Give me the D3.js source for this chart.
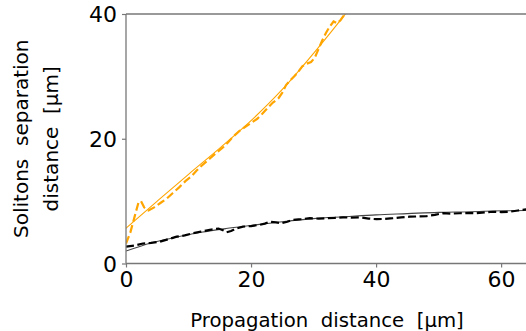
<!DOCTYPE html>
<html><head><meta charset="utf-8">
<script src="https://cdn.jsdelivr.net/npm/d3@7"></script>
<style>body{margin:0;background:#fff}svg{display:block}text{font-family:"DejaVu Sans",sans-serif;white-space:pre}</style>
</head><body><svg id="c" width="526" height="331"></svg>
<script>
// Orange: measured (dashed) and fit (solid)
const orangeX = [0,0.7,1.4,2.0,2.4,2.9,3.6,4.5,5.5,6.5,7.5,8.5,9.5,10.5,11.3,12.0,12.8,13.6,14.5,15.5,16.3,17.2,18.2,19.2,20.1,21.0,21.8,22.7,23.5,24.4,25.0,25.6,26.3,27.0,27.6,28.2,28.8,29.6,30.2,30.8,31.4,32.0,32.6,33.2,33.8,34.3,35.0,35.5];
const orangeY = [3.2,5.0,7.6,9.8,10.0,9.0,8.5,9.0,9.7,10.4,11.3,12.2,13.2,14.0,14.9,15.6,16.3,17.0,17.8,18.6,19.4,20.4,21.3,22.0,22.6,23.2,24.0,25.0,25.8,26.5,27.4,28.6,29.4,30.1,30.8,31.6,32.0,32.3,33.0,34.4,35.8,37.0,38.0,38.8,38.5,39.0,40.0,40.8];
const orangeFitX = [0,5,10,15,20,25,30,35,36];
const orangeFitY = [5.65,10.0,14.3,18.5,22.9,27.9,33.7,39.9,41.2];
// Black: measured (dashed) and fit (solid)
const blackX = [0,1.5,2.7,4.0,5.4,6.8,8.1,9.4,10.7,12.0,13.4,14.8,15.6,16.1,16.8,17.6,18.7,20.0,21.4,22.2,23.0,24.0,24.9,25.8,26.7,28.0,29.4,30.8,32.1,33.4,34.7,36.0,37.4,38.8,40.1,41.4,42.7,44.0,45.4,46.8,48.1,49.4,50.7,52.0,53.4,54.7,56.0,57.4,58.7,60.0,61.4,62.7,64.3];
const blackY = [2.7,2.9,3.2,3.3,3.5,3.9,4.3,4.5,4.85,5.1,5.4,5.6,5.3,5.0,5.2,5.6,5.9,6.0,6.2,6.4,6.7,6.6,6.45,6.7,7.0,7.1,7.26,7.2,7.26,7.3,7.4,7.35,7.4,7.2,7.1,7.15,7.26,7.4,7.5,7.55,7.6,7.8,8.06,8.0,8.06,8.1,8.06,8.2,8.3,8.25,8.3,8.5,8.7];
const blackFitX = [0,4,8,12,16,20,25,30,35,40,45,50,55,60,64.3];
const blackFitY = [2.0,3.3,4.2,5.0,5.6,6.1,6.7,7.2,7.5,7.8,8.0,8.2,8.3,8.45,8.5];
const xTicks = [0,20,40,60];
const yTicks = [0,20,40];
const xLabel = "Propagation  distance  [\u03bcm]";
const yLabelLines = ["Solitons  separation","distance  [\u03bcm]"];

const svg = d3.select("#c");
const L=126, R=528, T=14, B=263.5;
const x = d3.scaleLinear().domain([0,64.3]).range([L,R]);
const y = d3.scaleLinear().domain([0,40]).range([B,T]);

svg.append("defs").append("clipPath").attr("id","clip")
  .append("rect").attr("x",L).attr("y",T).attr("width",R-L).attr("height",B-T);

const g = svg.append("g").attr("clip-path","url(#clip)");
const lin = d3.line().x(d=>x(d[0])).y(d=>y(d[1]));
const smooth = d3.line().x(d=>x(d[0])).y(d=>y(d[1])).curve(d3.curveMonotoneX);
const zip = (a,b)=>a.map((v,i)=>[v,b[i]]);

g.append("path").attr("d",smooth(zip(blackFitX,blackFitY))).attr("fill","none").attr("stroke","#444").attr("stroke-width",1.1);
g.append("path").attr("d",lin(zip(blackX,blackY))).attr("fill","none").attr("stroke","#000").attr("stroke-width",2.2).attr("stroke-dasharray","8,3.5");
g.append("path").attr("d",smooth(zip(orangeFitX,orangeFitY))).attr("fill","none").attr("stroke","#FFA500").attr("stroke-width",1.1);
g.append("path").attr("d",lin(zip(orangeX,orangeY))).attr("fill","none").attr("stroke","#FFA500").attr("stroke-width",2.2).attr("stroke-dasharray","8,3.5");

// axes
const xa = svg.append("g").attr("transform",`translate(0,${B})`)
  .call(d3.axisBottom(x).tickValues(xTicks).tickSize(4).tickPadding(4).tickFormat(d3.format("d")));
const ya = svg.append("g").attr("transform",`translate(${L},0)`)
  .call(d3.axisLeft(y).tickValues(yTicks).tickSize(4).tickPadding(5).tickFormat(d3.format("d")));
[xa,ya].forEach(a=>{
  a.select(".domain").remove();
  a.selectAll(".tick line").attr("stroke","#777").attr("stroke-width",1.2);
  a.selectAll(".tick text").attr("fill","#000").style("font-size","22px").style("font-family","DejaVu Sans");
});
ya.selectAll(".tick text").attr("dy","0.36em");
// spines
const sp = svg.append("g").attr("stroke","#777").attr("stroke-width",1.3);
sp.append("line").attr("x1",L).attr("x2",L).attr("y1",T).attr("y2",B);
sp.append("line").attr("x1",L).attr("x2",R).attr("y1",B).attr("y2",B);
sp.append("line").attr("x1",L).attr("x2",R).attr("y1",T).attr("y2",T);

svg.append("text").attr("x",327).attr("y",326.5).attr("text-anchor","middle")
  .style("font-size","19.7px").attr("fill","#000").text(xLabel);
const yl = svg.append("text").attr("transform",`translate(28,${(T+B)/2}) rotate(-90)`).attr("text-anchor","middle")
  .style("font-size","20px").attr("fill","#000");
yLabelLines.forEach((s,i)=>yl.append("tspan").attr("x",0).attr("y",i*30).text(s));
</script></body></html>
